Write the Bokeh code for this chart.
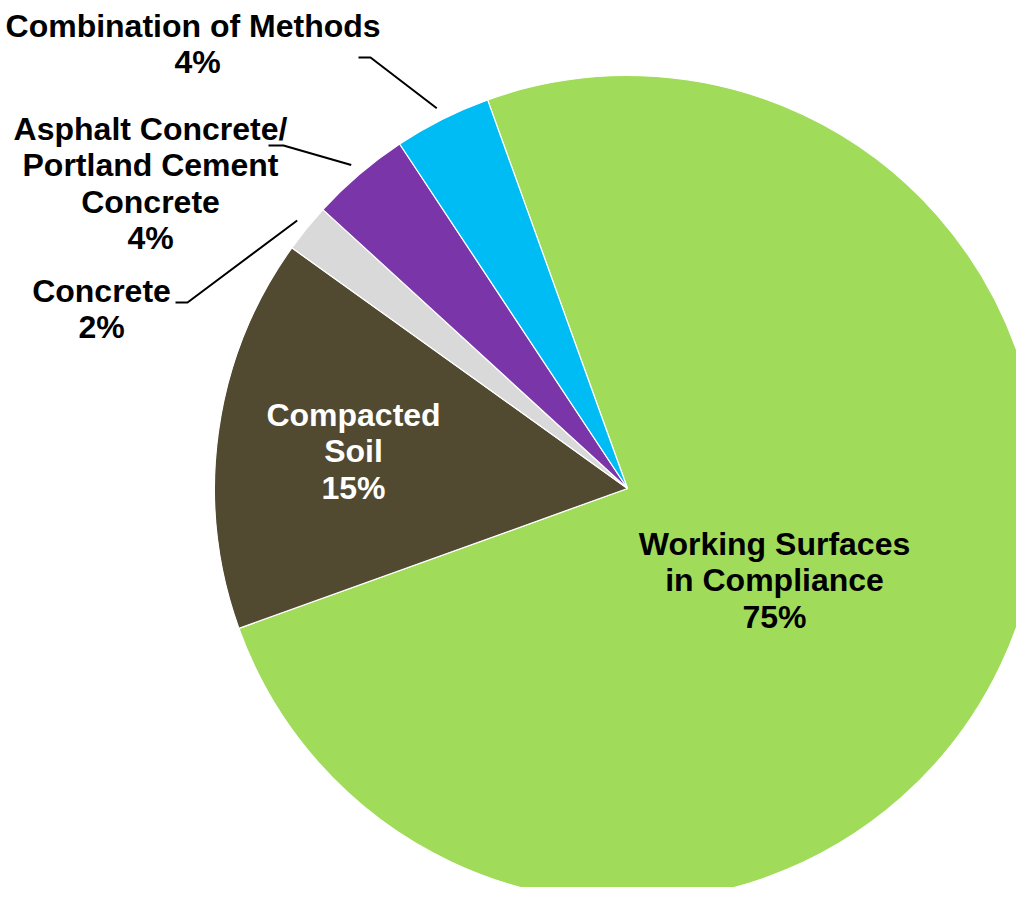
import math
from bokeh.plotting import figure
from bokeh.models import Range1d, ColumnDataSource
from bokeh.core.properties import value
from bokeh.embed import file_html
from bokeh.resources import INLINE

# ---- data ----
categories = ["Working Surfaces in Compliance", "Compacted Soil", "Concrete",
              "Asphalt Concrete/Portland Cement Concrete", "Combination of Methods"]
shares = [75.0, 15.4, 1.9, 3.9, 3.8]
label_lines = [["Working Surfaces", "in Compliance", "75%"],
               ["Compacted", "Soil", "15%"],
               ["Concrete", "2%"],
               ["Asphalt Concrete/", "Portland Cement", "Concrete", "4%"],
               ["Combination  of Methods", "4%"]]

# ---- styles / layout ----
colors = ["#A0DB5A", "#514A31", "#D9D9D9", "#7A35A8", "#00BCF4"]
text_colors = ["black", "white", "black", "black", "black"]
W, H = 1016, 887
PAGE_H = 903
cx, cy_screen, R = 627, 488, 413
cy = PAGE_H - cy_screen
first_angle = 340.2  # degrees clockwise from 12 o'clock where first slice starts
# label anchor (center x, screen y of first line)
label_pos = [(774, 543), (353, 414), (101, 290), (150, 128), (197, 25)]
line_gap = 36.5
# leader lines: (start x, screen y, horizontal length) or None
leaders = [None, None, (175, 302, 12), (268, 145, 15), (358, 57, 12)]

p = figure(width=W, height=H, output_backend="svg", toolbar_location=None,
           x_range=Range1d(0, W), y_range=Range1d(PAGE_H - H, PAGE_H),
           x_axis_type=None, y_axis_type=None, min_border=0)
p.grid.visible = False
p.outline_line_color = None
p.background_fill_color = "white"
p.border_fill_color = "white"

total = sum(shares)
starts, ends, mids = [], [], []
acc = first_angle
for s in shares:
    span = 360.0 * s / total
    a0 = acc
    a1 = acc + span
    starts.append(math.radians((90 - a0) % 360))
    ends.append(math.radians((90 - a1) % 360))
    mids.append(a0 + span / 2)
    acc = a1

src = ColumnDataSource(dict(x=[cx] * len(shares), y=[cy] * len(shares),
                            start=starts, end=ends, color=colors, cat=categories))
p.wedge(x="x", y="y", radius=R, start_angle="start", end_angle="end",
        direction="clock", fill_color="color", line_color="white", line_width=1.2,
        source=src)

# leader lines
lxs, lys = [], []
for lead, m in zip(leaders, mids):
    if lead is None:
        continue
    sx, sy, hl = lead
    ex = cx + 1.03 * R * math.sin(math.radians(m))
    ey = cy + 1.03 * R * math.cos(math.radians(m))
    lxs.append([sx, sx + hl, ex])
    lys.append([PAGE_H - sy, PAGE_H - sy, ey])
p.multi_line(xs=lxs, ys=lys, line_color="black", line_width=2)

# labels
tx, ty, tt, tc = [], [], [], []
for lines, (lx, ly), col in zip(label_lines, label_pos, text_colors):
    for i, ln in enumerate(lines):
        tx.append(lx)
        ty.append(PAGE_H - (ly + i * line_gap))
        tt.append(ln)
        tc.append(col)
p.text(x=tx, y=ty, text=tt, text_color=tc, text_font=value("Liberation Sans"),
       text_font_style="bold", text_font_size="32px", text_align="center",
       text_baseline="middle")

open("out.html", "w").write(file_html(p, INLINE))
